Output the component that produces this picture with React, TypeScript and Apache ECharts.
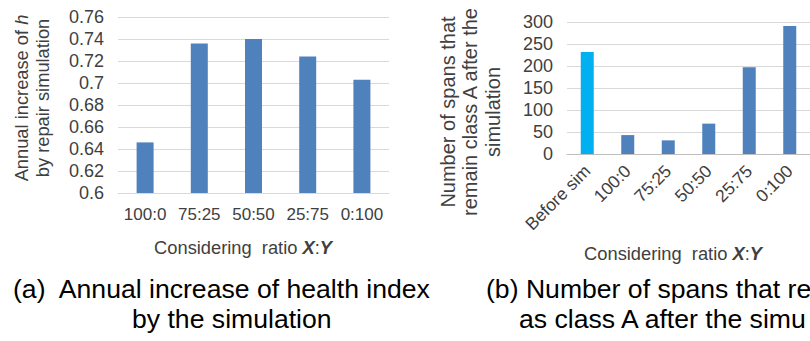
import React, { useEffect, useRef } from "react";
import * as echarts from "echarts";

const leftCategories = ["100:0", "75:25", "50:50", "25:75", "0:100"];
const leftValues = [0.646, 0.736, 0.74, 0.724, 0.703];
const rightCategories = ["Before sim", "100:0", "75:25", "50:50", "25:75", "0:100"];
const rightValues = [232, 43, 31, 69, 197, 291];

const BLUE = "#4F81BD";
const CYAN = "#00B0F0";
const GRID = "#D9D9D9";
const TXT = "#404040";
const FONT = "'Liberation Sans', Arial, sans-serif";

export default function App() {
  const ref = useRef<HTMLDivElement>(null);
  useEffect(() => {
    const chart = echarts.init(ref.current!, null, { renderer: "svg" });
    const labelStyle = { color: TXT, fontFamily: FONT, fontSize: 17 };
    const nameRich = { b: { fontStyle: "italic", fontWeight: "bold", fontSize: 18.3, fontFamily: FONT, fill: TXT } };
    chart.setOption({
      animation: false,
      backgroundColor: "#ffffff",
      grid: [
        { left: 118, right: 421, top: 17, bottom: 148 },
        { left: 567, right: -7, top: 22, bottom: 187 },
      ],
      xAxis: [
        {
          type: "category",
          gridIndex: 0,
          data: leftCategories,
          axisLine: { lineStyle: { color: GRID } },
          axisTick: { show: false },
          axisLabel: { ...labelStyle, margin: 13, interval: 0 },
        },
        {
          type: "category",
          gridIndex: 1,
          data: rightCategories,
          axisLine: { lineStyle: { color: "#BFBFBF" } },
          axisTick: { show: false },
          axisLabel: { ...labelStyle, fontSize: 17.5, margin: 14, rotate: 45, interval: 0 },
        },
      ],
      yAxis: [
        {
          type: "value",
          gridIndex: 0,
          min: 0.6,
          max: 0.76,
          interval: 0.02,
          axisLine: { show: false },
          axisTick: { show: false },
          splitLine: { lineStyle: { color: GRID } },
          axisLabel: {
            ...labelStyle,
            fontSize: 18,
            margin: 14,
            formatter: (v: number) => String(+v.toFixed(2)),
          },
        },
        {
          type: "value",
          gridIndex: 1,
          min: 0,
          max: 300,
          interval: 50,
          axisLine: { show: false },
          axisTick: { show: false },
          splitLine: { lineStyle: { color: GRID } },
          axisLabel: { ...labelStyle, fontSize: 18, margin: 14 },
        },
      ],
      series: [
        {
          type: "bar",
          xAxisIndex: 0,
          yAxisIndex: 0,
          data: leftValues,
          barWidth: 17,
          itemStyle: { color: BLUE },
        },
        {
          type: "bar",
          xAxisIndex: 1,
          yAxisIndex: 1,
          data: rightValues.map((v, i) => ({
            value: v,
            itemStyle: { color: i === 0 ? CYAN : BLUE },
          })),
          barWidth: 13,
        },
      ],
      graphic: [
        {
          type: "text",
          x: 32,
          y: 98,
          rotation: Math.PI / 2,
          style: {
            text: "Annual increase of {i|h}\nby repair simulation",
            align: "center",
            verticalAlign: "middle",
            fill: TXT,
            font: `18.3px ${FONT}`,
            lineHeight: 21,
            rich: { i: { fontStyle: "italic", fontSize: 18.3, fontFamily: FONT, fill: TXT, lineHeight: 21 } },
          },
        },
        {
          type: "text",
          x: 470,
          y: 112,
          rotation: Math.PI / 2,
          style: {
            text: "Number of spans that\nremain class A after the\nsimulation",
            align: "center",
            verticalAlign: "middle",
            fill: TXT,
            font: `20px ${FONT}`,
            lineHeight: 22.5,
          },
        },
        {
          type: "text",
          x: 243,
          y: 247,
          style: {
            text: "Considering  ratio {b|X}:{b|Y}",
            align: "center",
            verticalAlign: "middle",
            fill: TXT,
            font: `18.3px ${FONT}`,
            rich: nameRich,
          },
        },
        {
          type: "text",
          x: 673,
          y: 253,
          style: {
            text: "Considering  ratio {b|X}:{b|Y}",
            align: "center",
            verticalAlign: "middle",
            fill: TXT,
            font: `18.3px ${FONT}`,
            rich: nameRich,
          },
        },
        {
          type: "text",
          x: 13,
          y: 302,
          style: { text: "(a)  Annual increase of health index", fill: "#000", font: `26.6px ${FONT}`, verticalAlign: "bottom" },
        },
        {
          type: "text",
          x: 132,
          y: 332,
          style: { text: "by the simulation", fill: "#000", font: `26.6px ${FONT}`, verticalAlign: "bottom" },
        },
        {
          type: "text",
          x: 486,
          y: 302,
          style: { text: "(b) Number of spans that re", fill: "#000", font: `26.6px ${FONT}`, verticalAlign: "bottom" },
        },
        {
          type: "text",
          x: 519,
          y: 332,
          style: { text: "as class A after the simu", fill: "#000", font: `26.6px ${FONT}`, verticalAlign: "bottom" },
        },
      ],
    });
    return () => chart.dispose();
  }, []);
  return (
    <div style={{ position: "absolute", left: 0, top: 0, width: 810, height: 341, overflow: "hidden" }}>
      <div ref={ref} style={{ width: 810, height: 341 }} />
    </div>
  );
}
